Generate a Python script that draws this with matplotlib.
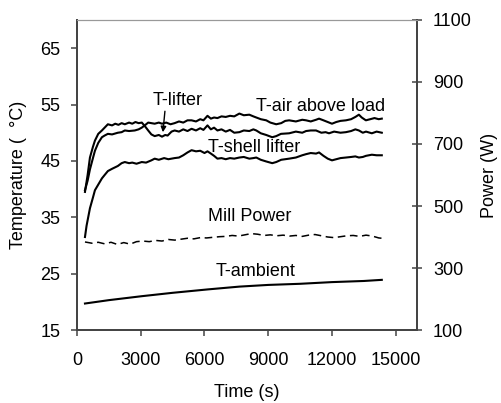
import numpy as np
import matplotlib
matplotlib.use("Agg")
from matplotlib import pyplot as plt

plt.rcParams["font.family"] = ["Liberation Sans", "DejaVu Sans"]
plt.rcParams["font.size"] = 13

# T-lifter (deg C)
t_lifter = [375, 500, 609, 750, 844, 1000, 1172, 1300, 1453, 1650, 1800, 1950, 2100, 2250, 2450,
            2600, 2750, 2900, 3050, 3188, 3350, 3500, 3656, 3850, 4000, 4150, 4266, 4450, 4594,
            4800, 5000, 5200, 5391, 5600, 5800, 5950, 6141, 6300, 6450, 6609, 6800, 7000, 7200,
            7400, 7641, 7850, 8109, 8300, 8438, 8650, 8906, 9188, 9375, 9600, 9984, 10300, 10600,
            10781, 11000, 11250, 11500, 11700, 11859, 12100, 12400, 12656, 12900, 13100, 13266,
            13450, 13600, 13875, 14100, 14344]
T_lifter = [39.5, 42.5, 45.6, 47.5, 48.6, 49.8, 50.4, 50.9, 51.5, 51.3, 51.6, 51.4, 51.7, 51.5, 51.8,
            51.6, 51.9, 51.7, 51.8, 51.2, 50.4, 49.7, 49.4, 49.6, 49.3, 49.6, 49.5, 50.2, 50.4,
            50.2, 50.6, 50.3, 50.7, 50.4, 50.8, 50.5, 51.3, 50.6, 50.9, 50.4, 50.6, 50.2, 50.5,
            50.0, 50.1, 50.4, 50.3, 50.6, 50.4, 49.9, 49.6, 49.2, 49.4, 49.8, 49.9, 50.2, 50.0,
            50.3, 50.4, 50.4, 50.0, 50.1, 49.9, 50.2, 50.0, 50.1, 50.3, 50.6, 50.4,
            50.0, 50.2, 49.9, 50.2, 50.0]

# T-air above load (deg C)
t_air = [375, 500, 609, 750, 844, 1000, 1172, 1300, 1453, 1650, 1922, 2100, 2250, 2450, 2719,
         2900, 3047, 3188, 3350, 3500, 3656, 3850, 4000, 4200, 4400, 4594, 4800, 5000, 5200,
         5391, 5600, 5800, 5950, 6141, 6300, 6450, 6609, 6800, 7000, 7200, 7400, 7641, 7850,
         8109, 8300, 8438, 8650, 8906, 9100, 9375, 9609, 9800, 9984, 10300, 10600, 10781, 11000,
         11250, 11391, 11600, 11800, 12000, 12200, 12400, 12656, 12900, 13100, 13266, 13400,
         13594, 13800, 14000, 14200, 14344]
T_air = [39.8, 41.5, 43.5, 45.5, 46.8, 48.2, 49.2, 49.5, 49.8, 49.7, 50.0, 50.1, 50.4, 50.3, 50.4,
         50.6, 50.9, 51.3, 51.8, 51.7, 51.6, 51.8, 51.6, 51.8, 51.5, 51.7, 52.0, 51.8, 52.2,
         52.2, 52.0, 52.4, 52.2, 53.0, 52.5, 52.7, 52.6, 52.9, 52.8, 53.0, 52.9, 53.4, 53.1,
         53.2, 52.9, 52.7, 52.4, 52.2, 51.8, 51.5, 51.7, 52.1, 52.2, 52.0, 52.3, 52.2, 52.0,
         52.3, 52.5, 52.2, 51.9, 51.6, 51.9, 52.1, 52.2, 52.4, 52.8, 53.2, 52.7,
         52.2, 52.4, 52.6, 52.4, 52.5]

# T-shell lifter (deg C)
t_shell = [375, 450, 609, 750, 844, 1000, 1172, 1300, 1453, 1650, 1922, 2100, 2250, 2450, 2600,
           2800, 3047, 3250, 3500, 3656, 3850, 4100, 4300, 4594, 4800, 5000, 5200, 5391, 5600,
           5800, 6000, 6141, 6300, 6450, 6609, 6800, 7000, 7200, 7400, 7641, 7850, 8109, 8300,
           8438, 8650, 8906, 9188, 9375, 9609, 9984, 10300, 10600, 10781, 11000, 11250, 11391,
           11600, 11800, 12000, 12200, 12400, 12656, 12900, 13100, 13266, 13450, 13600, 13875,
           14100, 14344]
T_shell = [31.5, 33.5, 36.6, 38.5, 39.8, 40.8, 41.9, 42.5, 43.2, 43.6, 44.1, 44.6, 44.8, 44.6, 44.7,
           44.5, 44.8, 44.7, 45.1, 45.4, 45.2, 45.5, 45.3, 45.5, 45.6, 46.0, 46.5, 46.9, 46.7,
           46.8, 46.4, 46.7, 46.3, 45.9, 45.4, 45.5, 45.3, 45.5, 45.4, 45.6, 45.7, 45.4, 45.5,
           45.6, 45.2, 44.9, 44.6, 44.8, 45.2, 45.4, 45.6, 46.0, 46.2, 46.4, 46.3, 46.5,
           45.9, 45.4, 45.1, 45.3, 45.5, 45.6, 45.7, 45.8, 45.6, 45.7, 45.9, 46.1,
           46.0, 46.0]

# T-ambient (deg C)
t_amb = [375, 1500, 3047, 4500, 6141, 7641, 9000, 10500, 12000, 13500, 14344]
T_amb = [19.7, 20.3, 21.0, 21.6, 22.2, 22.7, 23.0, 23.2, 23.5, 23.7, 23.9]

# Mill power (W)
t_power = [375, 700, 1000, 1300, 1600, 1900, 2200, 2500, 2800, 3100, 3400, 3700, 4000, 4300,
           4600, 4900, 5200, 5500, 5800, 6100, 6400, 6700, 7000, 7300, 7600, 7900, 8200, 8500,
           8800, 9100, 9400, 9700, 10000, 10300, 10600, 10900, 11200, 11500, 11800, 12100,
           12400, 12700, 13000, 13300, 13600, 13900, 14200, 14344]
P_mill = [384, 380, 383, 378, 383, 376, 382, 377, 385, 387, 385, 389, 387, 392,
          390, 393, 396, 394, 398, 397, 399, 401, 402, 405, 403, 407, 411, 409,
          405, 407, 404, 406, 403, 405, 402, 406, 408, 404, 400, 398,
          401, 404, 405, 402, 406, 403, 397, 396]

fig = plt.figure(figsize=(5.01, 4.03), dpi=100)
ax = fig.add_axes([0.1537, 0.1811, 0.6786, 0.7693])
ax2 = ax.twinx()

lw = 1.5
ax.plot(t_lifter, T_lifter, color="black", lw=lw)
ax.plot(t_air, T_air, color="black", lw=lw)
ax.plot(t_shell, T_shell, color="black", lw=lw)
ax.plot(t_amb, T_amb, color="black", lw=lw)
ax2.plot(t_power, P_mill, color="black", lw=1.1, linestyle=(0, (5, 3)))

ax.set_xlim(0, 16000)
ax.set_ylim(15, 70)
ax2.set_ylim(100, 1100)
ax.set_xticks(np.arange(0, 15001, 3000))
ax.set_yticks(np.arange(15, 66, 10))
ax2.set_yticks(np.arange(100, 1101, 200))

spine_col = "#444444"
for a in (ax, ax2):
    for name in ["left", "bottom", "right"]:
        a.spines[name].set_color(spine_col)
        a.spines[name].set_linewidth(1.3)
    a.spines["top"].set_color("#999999")
    a.spines["top"].set_linewidth(0.8)

ax.tick_params(axis="y", direction="out", length=4, width=1.1, color=spine_col, labelsize=13, pad=8)
ax.tick_params(axis="x", direction="out", length=4, width=1.1, color=spine_col, labelsize=13, pad=12)
ax2.tick_params(direction="inout", length=7, width=1.1, color=spine_col, labelsize=13, pad=8)

ax.set_xlabel("Time (s)", fontsize=13, va="center")
ax.set_ylabel("Temperature (  °C)", fontsize=13, va="center")
ax2.set_ylabel("Power (W)", fontsize=13, va="center")
ax.xaxis.set_label_coords(0.5, -0.2)
ax.yaxis.set_label_coords(-0.173, 0.5)
ax2.yaxis.set_label_coords(1.212, 0.5)

ax.text(4734, 55.7, "T-lifter", ha="center", va="center", fontsize=13)
ax.annotate("", xy=(4030, 49.6), xytext=(4150, 54.3),
            arrowprops=dict(arrowstyle="-|>", color="black", lw=1.0, mutation_scale=8))
ax.text(11484, 54.6, "T-air above load", ha="center", va="center", fontsize=13)
ax.text(8344, 47.4, "T-shell lifter", ha="center", va="center", fontsize=13)
ax.text(8110, 35.2, "Mill Power", ha="center", va="center", fontsize=13)
ax.text(8390, 25.4, "T-ambient", ha="center", va="center", fontsize=13)

fig.savefig("out.png", dpi=100)
